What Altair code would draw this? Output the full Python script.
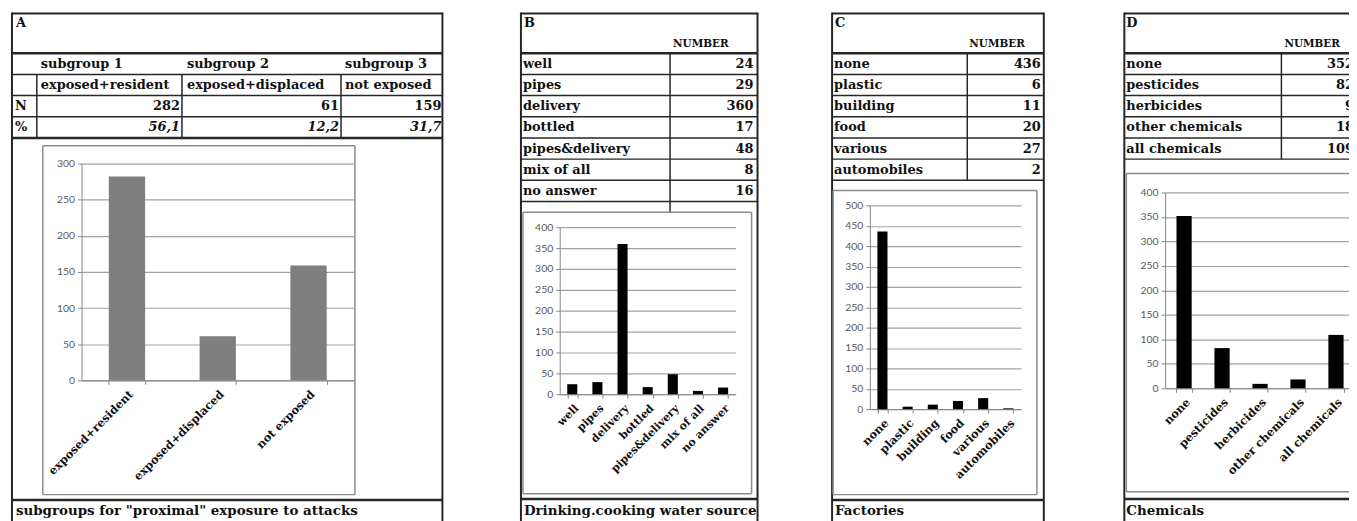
import altair as alt
import pandas as pd

# ---------------- data ----------------
panel_letters = ["A", "B", "C", "D"]
number_header = "NUMBER"

A_subgroups = ["subgroup 1", "subgroup 2", "subgroup 3"]
A_groups = ["exposed+resident", "exposed+displaced", "not exposed"]
A_n = [282, 61, 159]
A_pct = ["56,1", "12,2", "31,7"]
A_caption = 'subgroups for "proximal" exposure to attacks'

B_cats = ["well", "pipes", "delivery", "bottled", "pipes&delivery", "mix of all", "no answer"]
B_vals = [24, 29, 360, 17, 48, 8, 16]
B_caption = "Drinking.cooking water source"

C_cats = ["none", "plastic", "building", "food", "various", "automobiles"]
C_vals = [436, 6, 11, 20, 27, 2]
C_caption = "Factories"

D_cats = ["none", "pesticides", "herbicides", "other chemicals", "all chemicals"]
D_vals = [352, 82, 9, 18, 109]
D_caption = "Chemicals"

# ---------------- layout ----------------
OFF = 8
W, H = 1349, 513
SERIF = "DejaVu Serif"
SANS = "Lato"
LINE = "#262626"
BOXC = "#8c8c8c"
AX = "#868686"
GRID = "#a3a3a3"
ROW0 = 52
ROW_H = 21.3


def P(v):
    return v - OFF


def row_line(i):
    return ROW0 + i * ROW_H


def row_mid(i):
    return ROW0 + (i + 0.5) * ROW_H


rules = []


def rule(x1, y1, x2, y2, w=1.5, c=LINE):
    rules.append({"x": P(x1), "y": P(y1), "x2": P(x2), "y2": P(y2), "w": w, "c": c})


def box(x1, y1, x2, y2, w=1.5, c=BOXC):
    rule(x1, y1, x2, y1, w, c)
    rule(x1, y2, x2, y2, w, c)
    rule(x1, y1, x1, y2, w, c)
    rule(x2, y1, x2, y2, w, c)


# panel frames: left, right, number of rows, divider x, divider end, caption line y
frames = [
    (12, 445, 4, None, None, 501.5),
    (524, 762, 7, 674, 212, 500.5),
    (837, 1050, 6, 973, row_line(6), 501.5),
    (1131, 1420, 5, 1289, row_line(5), 500.5),
]
for left, right, nrows, divx, divend, capy in frames:
    rule(left, 12, right, 12, 2)
    rule(left, 11, left, 540, 2)
    rule(right, 11, right, 540, 2)
    rule(left, ROW0, right, ROW0, 2.5)
    for i in range(1, nrows + 1):
        rule(left, row_line(i), right, row_line(i), 2.5 if (nrows == 4 and i == 4) else 1.5)
    if divx is not None:
        rule(divx, ROW0, divx, divend, 1.5)
    rule(left, capy, right, capy, 2.5)

# panel A column dividers
for xx in [37, 183, 343]:
    rule(xx, row_line(1), xx, row_line(4), 1.5)

# inner chart-area boxes
box(43, 145, 357, 496)
box(526, 212, 756, 495)
box(838, 190, 1043, 496)
box(1133, 173, 1420, 493)

# ---------------- texts ----------------
left_bold, right_bold, right_ital, hdr, capt = [], [], [], [], []

for letter, lx in zip(panel_letters, [16, 527, 840, 1133]):
    left_bold.append({"x": P(lx), "y": P(22), "t": letter})
for nx in [677, 975, 1292]:
    hdr.append({"x": P(nx), "y": P(43), "t": number_header})

# panel A table
for sx, sg, grp, n, pc, rx in zip([41, 188, 347], A_subgroups, A_groups, A_n, A_pct, [181, 341, 444]):
    left_bold.append({"x": P(sx), "y": P(row_mid(0)), "t": sg})
    left_bold.append({"x": P(sx), "y": P(row_mid(1)), "t": grp})
    right_bold.append({"x": P(rx), "y": P(row_mid(2)), "t": str(n)})
    right_ital.append({"x": P(rx), "y": P(row_mid(3)), "t": pc})
left_bold.append({"x": P(15), "y": P(row_mid(2)), "t": "N"})
left_bold.append({"x": P(15), "y": P(row_mid(3)), "t": "%"})

# panels B, C, D tables
for cats, vals, lx, rx in [(B_cats, B_vals, 526, 758), (C_cats, C_vals, 839, 1047), (D_cats, D_vals, 1133, 1362)]:
    for i, (c, v) in enumerate(zip(cats, vals)):
        left_bold.append({"x": P(lx), "y": P(row_mid(i)), "t": c})
        right_bold.append({"x": P(rx), "y": P(row_mid(i)), "t": str(v)})

for cap, cx in zip([A_caption, B_caption, C_caption, D_caption], [16, 527, 840, 1133]):
    capt.append({"x": P(cx), "y": P(512), "t": cap})


def pos_enc():
    return dict(
        x=alt.X("x:Q", scale=None, axis=None),
        y=alt.Y("y:Q", scale=None, axis=None),
    )


rule_layer = alt.Chart(pd.DataFrame(rules)).mark_rule().encode(
    x=alt.X("x:Q", scale=None, axis=None),
    y=alt.Y("y:Q", scale=None, axis=None),
    x2="x2:Q",
    y2="y2:Q",
    strokeWidth=alt.StrokeWidth("w:Q", scale=None),
    color=alt.Color("c:N", scale=None),
)


def text_layer(rows, align, size, style="normal", weight="bold"):
    return alt.Chart(pd.DataFrame(rows)).mark_text(
        align=align, baseline="middle", font=SERIF, fontSize=size,
        fontWeight=weight, fontStyle=style, color="#111111",
    ).encode(text="t:N", **pos_enc())


t1 = text_layer(left_bold, "left", 13)
t2 = text_layer(right_bold, "right", 13)
t3 = text_layer(right_ital, "right", 13, style="italic")
t4 = text_layer(hdr, "left", 10.5)
t5 = text_layer(capt, "left", 13.5)


# ---------------- bar charts ----------------
def bar_chart(cats, vals, color, x0, x1, ytop, ybot, ymax, lab_size):
    df = pd.DataFrame({"category": cats, "value": vals})
    return alt.Chart(df).mark_bar(color=color).encode(
        x=alt.X(
            "category:N", sort=cats, title=None,
            scale=alt.Scale(range=[P(x0), P(x1)], paddingInner=0.6, paddingOuter=0.3),
            axis=alt.Axis(
                orient="bottom", offset=P(ybot) - H, labelAngle=-45,
                labelAlign="right", labelBaseline="top",
                labelFont=SERIF, labelFontWeight="bold", labelFontSize=lab_size,
                labelColor="#111111", labelPadding=4, tickBand="extent",
                tickSize=4, tickColor=AX, domainColor=AX, grid=False,
                labelOverlap=False, labelLimit=400,
            ),
        ),
        y=alt.Y(
            "value:Q", title=None,
            scale=alt.Scale(domain=[0, ymax], range=[P(ybot), P(ytop)], nice=False, zero=True),
            axis=alt.Axis(
                orient="left", offset=-P(x0), values=list(range(0, ymax + 1, 50)),
                grid=True, gridColor=GRID, gridWidth=1.2,
                labelFont=SANS, labelFontSize=10.5, labelColor="#595959",
                tickSize=4, tickColor=AX, domainColor=AX, labelPadding=3,
            ),
        ),
    )


barA = bar_chart(A_groups, A_n, "#7f7f7f", 82, 356, 163, 381, 300, 11.5)
barB = bar_chart(B_cats, B_vals, "#000000", 563, 740, 227, 395, 400, 11)
barC = bar_chart(C_cats, C_vals, "#000000", 875, 1027, 205, 410, 500, 11.5)
barD = bar_chart(D_cats, D_vals, "#000000", 1172, 1363, 192, 389, 400, 11.5)

chart = (
    alt.layer(rule_layer, t1, t2, t3, t4, t5, barA, barB, barC, barD)
    .resolve_scale(x="independent", y="independent")
    .properties(width=W, height=H, padding=0, autosize=alt.AutoSizeParams(type="none"),
                background="white")
    .configure_view(stroke=None)
)

chart.save("out.html", embed_options={"renderer": "svg", "actions": False})
